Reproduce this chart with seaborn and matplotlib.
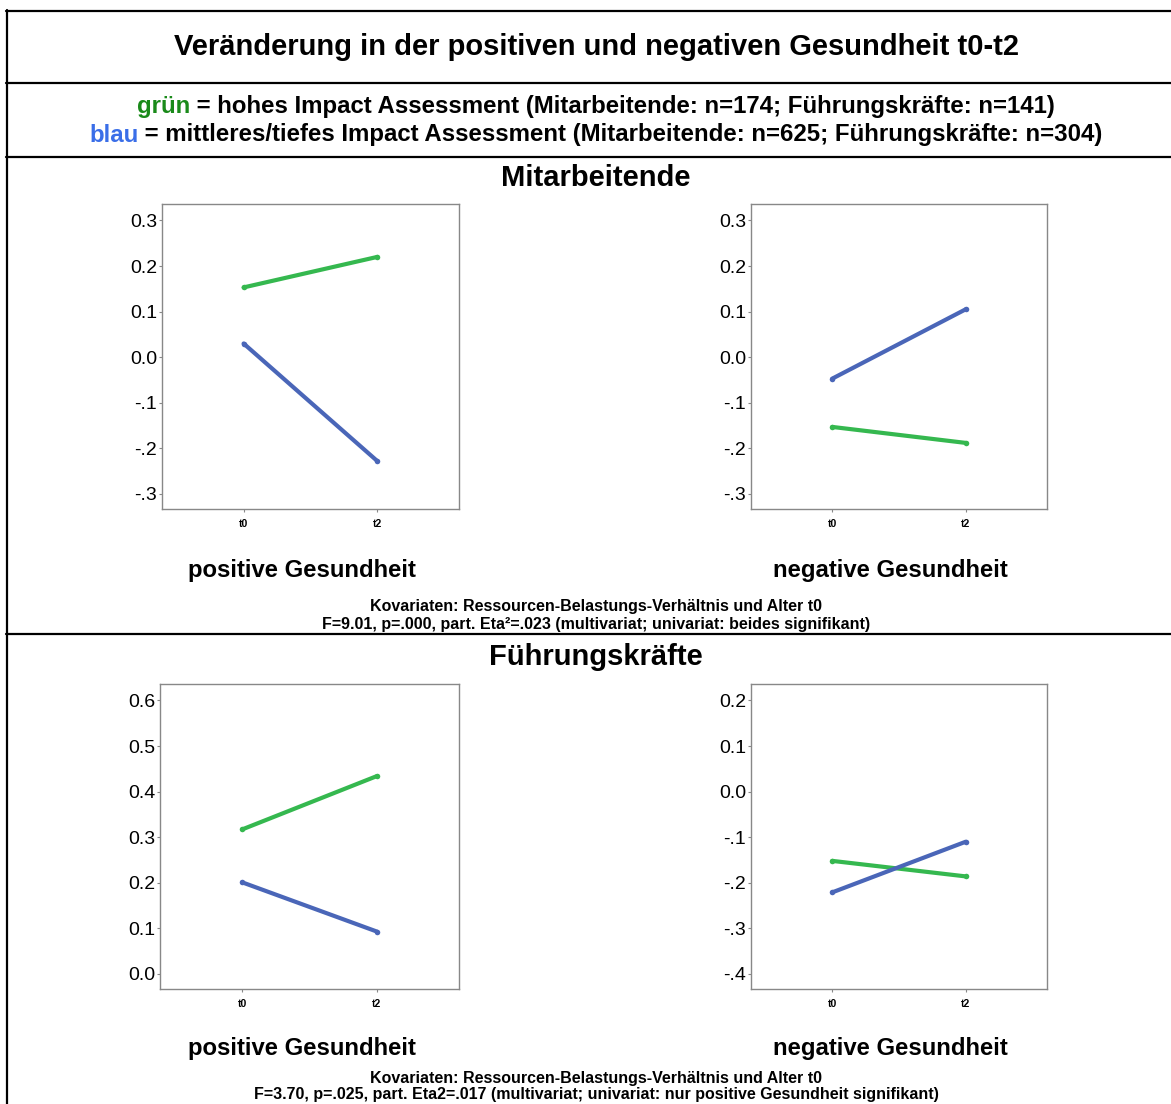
import numpy as np
import pandas as pd
import matplotlib
matplotlib.use('Agg')
import matplotlib.pyplot as plt
import seaborn as sns

sns.set_style("white")
plt.rcParams['font.family'] = ['Liberation Sans', 'DejaVu Sans']
plt.rcParams['text.color'] = 'black'
plt.rcParams['xtick.color'] = 'black'
plt.rcParams['ytick.color'] = 'black'

# data
zeitpunkte = ["t0", "t2"]
gruppen = ["hoch", "mittel/tief"]
ma_pos_hoch = [0.153, 0.220]
ma_pos_tief = [0.030, -0.228]
ma_neg_hoch = [-0.153, -0.188]
ma_neg_tief = [-0.047, 0.105]
fk_pos_hoch = [0.317, 0.434]
fk_pos_tief = [0.201, 0.093]
fk_neg_hoch = [-0.152, -0.186]
fk_neg_tief = [-0.221, -0.110]

ma_pos_ticks = [0.3, 0.2, 0.1, 0.0, -0.1, -0.2, -0.3]
ma_neg_ticks = [0.3, 0.2, 0.1, 0.0, -0.1, -0.2, -0.3]
fk_pos_ticks = [0.6, 0.5, 0.4, 0.3, 0.2, 0.1, 0.0]
fk_neg_ticks = [0.2, 0.1, 0.0, -0.1, -0.2, -0.3, -0.4]

GREEN = "#35b84f"
BLUE = "#4a66b8"
pal = {"hoch": GREEN, "mittel/tief": BLUE}

W, H = 1171, 1104
fig = plt.figure(figsize=(W / 100, H / 100), dpi=100)


def fx(px):
    return px / W


def fy(py):
    return 1 - py / H


def make_df(hoch, tief):
    rows = []
    for g, vals in zip(gruppen, [hoch, tief]):
        for i, v in enumerate(vals):
            rows.append({"zeit": i, "wert": v, "gruppe": g})
    return pd.DataFrame(rows)


def fmt_tick(v):
    if v < 0:
        return ("%.1f" % v).replace("-0.", "-.")
    return "%.1f" % v


def panel(rect, hoch, tief, ticks):
    ax = fig.add_axes(rect)
    df = make_df(hoch, tief)
    sns.lineplot(data=df, x="zeit", y="wert", hue="gruppe", palette=pal,
                 linewidth=3, marker="o", markersize=4, markeredgewidth=0,
                 legend=False, ax=ax)
    step = ticks[0] - ticks[1]
    ax.set_ylim(ticks[-1] - 0.33 * step, ticks[0] + 0.36 * step)
    ax.set_xlim(-0.61, 1.61)
    ax.set_yticks(ticks)
    ax.set_yticklabels([fmt_tick(t) for t in ticks], fontsize=14)
    ax.set_xticks([0, 1])
    ax.set_xticklabels(zeitpunkte, fontsize=7.5, fontweight="bold")
    ax.tick_params(axis="both", length=2.5, width=0.8, color="#888888",
                   direction="out", pad=1, left=True, bottom=True)
    ax.tick_params(axis="x", pad=5)
    ax.set_xlabel("")
    ax.set_ylabel("")
    for s in ax.spines.values():
        s.set_color("#888888")
        s.set_linewidth(1)
    return ax


panel([fx(162), fy(509), fx(297), 305 / H], ma_pos_hoch, ma_pos_tief, ma_pos_ticks)
panel([fx(751), fy(509), fx(296), 305 / H], ma_neg_hoch, ma_neg_tief, ma_neg_ticks)
panel([fx(160), fy(989), fx(299), 305 / H], fk_pos_hoch, fk_pos_tief, fk_pos_ticks)
panel([fx(751), fy(989), fx(296), 305 / H], fk_neg_hoch, fk_neg_tief, fk_neg_ticks)

# frame lines
for yy in [11, 83, 157, 634]:
    fig.add_artist(plt.Line2D([fx(6), 1], [fy(yy), fy(yy)], color="black", lw=1.6))
fig.add_artist(plt.Line2D([fx(7), fx(7)], [fy(10), 0], color="black", lw=1.6))

fig.text(fx(596), fy(47), "Veränderung in der positiven und negativen Gesundheit t0-t2",
         ha="center", va="center", fontsize=21, fontweight="bold")

# legend lines with coloured first word
renderer = fig.canvas.get_renderer()
leg = [("grün", "#1a8a1a", " = hohes Impact Assessment (Mitarbeitende: n=174; Führungskräfte: n=141)", 107),
       ("blau", "#3a6ee8", " = mittleres/tiefes Impact Assessment (Mitarbeitende: n=625; Führungskräfte: n=304)", 135)]
for word, col, rest, yy in leg:
    t1 = fig.text(0, fy(yy), word, color=col, fontsize=17.3, fontweight="bold", va="center")
    t2 = fig.text(0, fy(yy), rest, color="black", fontsize=17.3, fontweight="bold", va="center")
    w1 = t1.get_window_extent(renderer).width
    w2 = t2.get_window_extent(renderer).width
    x0 = 596 - (w1 + w2) / 2
    t1.set_x(fx(x0))
    t2.set_x(fx(x0 + w1))

fig.text(fx(596), fy(178), "Mitarbeitende", ha="center", va="center", fontsize=21, fontweight="bold")
fig.text(fx(596), fy(657), "Führungskräfte", ha="center", va="center", fontsize=21, fontweight="bold")

for yy in [570, 1048]:
    fig.text(fx(302), fy(yy), "positive Gesundheit", ha="center", va="center", fontsize=17.2, fontweight="bold")
    fig.text(fx(890), fy(yy), "negative Gesundheit", ha="center", va="center", fontsize=17.2, fontweight="bold")

fig.text(fx(596), fy(606), "Kovariaten: Ressourcen-Belastungs-Verhältnis und Alter t0",
         ha="center", va="center", fontsize=11.5, fontweight="bold")
fig.text(fx(596), fy(624), "F=9.01, p=.000, part. Eta²=.023 (multivariat; univariat: beides signifikant)",
         ha="center", va="center", fontsize=11.5, fontweight="bold")
fig.text(fx(596), fy(1079), "Kovariaten: Ressourcen-Belastungs-Verhältnis und Alter t0",
         ha="center", va="center", fontsize=11.5, fontweight="bold")
fig.text(fx(596), fy(1095), "F=3.70, p=.025, part. Eta2=.017 (multivariat; univariat: nur positive Gesundheit signifikant)",
         ha="center", va="center", fontsize=11.5, fontweight="bold")

plt.savefig("out.png", dpi=100)
